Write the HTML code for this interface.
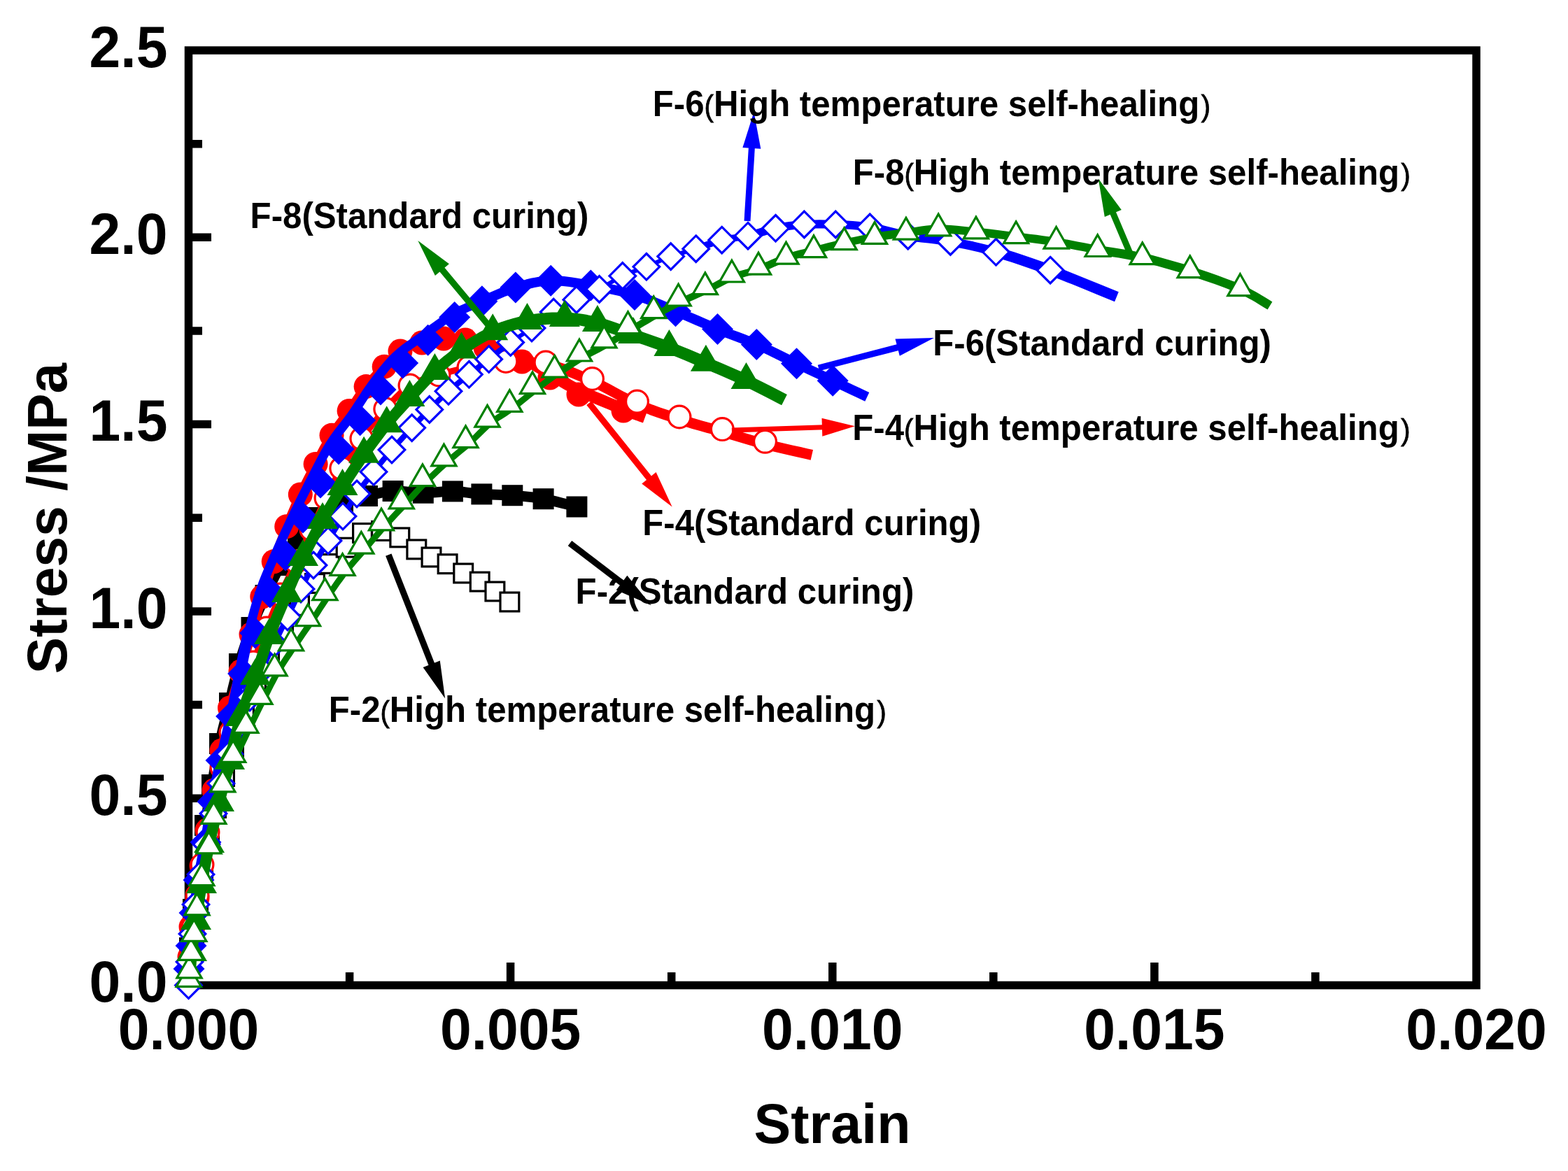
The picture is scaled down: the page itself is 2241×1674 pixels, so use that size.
<!DOCTYPE html>
<html><head><meta charset="utf-8"><title>Stress-strain curves</title>
<style>html,body{margin:0;padding:0;background:#fff;overflow:hidden}svg{display:block}</style>
</head><body>
<svg xmlns="http://www.w3.org/2000/svg" width="2241" height="1674" viewBox="0 0 2241 1674">
<rect width="100%" height="100%" fill="#fff"/>
<g stroke="#000" stroke-width="11.5" fill="none">
<rect x="269.5" y="72" width="1840.5" height="1336.5"/>
</g>
<path d="M499.6 1408.5V1390 M729.6 1408.5V1376 M959.7 1408.5V1390 M1189.8 1408.5V1376 M1419.8 1408.5V1390 M1649.9 1408.5V1376 M1879.9 1408.5V1390 M269.5 1274.8H289 M269.5 1141.2H302 M269.5 1007.5H289 M269.5 873.9H302 M269.5 740.2H289 M269.5 606.6H302 M269.5 473H289 M269.5 339.3H302 M269.5 205.7H289" stroke="#000" stroke-width="11.5" fill="none"/>
<path d="M269.5 1408.5 L269.6 1402.7 L269.8 1394.7 L269.9 1385.2 L270.2 1374.9 L270.5 1364.6 L271 1355 L271.6 1346 L272.3 1337 L273.1 1327.9 L274 1318.8 L275 1309.5 L276 1300 L277.1 1290.3 L278.4 1280.4 L279.8 1270.3 L281.1 1260.2 L282.6 1250.1 L284 1240 L285.4 1230 L286.9 1219.9 L288.4 1209.9 L289.9 1199.9 L291.4 1189.9 L293 1180 L294.6 1170.2 L296.2 1160.6 L297.9 1150.9 L299.6 1141.3 L301.3 1131.7 L303 1122 L304.7 1112.2 L306.5 1102.4 L308.2 1092.5 L310.1 1082.6 L312 1072.8 L314 1063 L316.2 1053.3 L318.4 1043.5 L320.8 1033.8 L323.2 1024.1 L325.6 1014.5 L328 1005 L330.3 995.5 L332.5 986 L334.8 976.6 L337.1 967.3 L339.5 958.1 L342 949 L344.7 940 L347.5 931.1 L350.4 922.4 L353.4 913.7 L356.4 905.3 L359.5 897 L362.7 889 L365.9 881.1 L369.2 873.4 L372.6 865.9 L376.1 858.4 L379.5 851 L383 843.6 L386.4 836.3 L389.9 829 L393.5 821.9 L397.2 814.8 L401 808 L404.9 801.3 L408.9 794.7 L413 788.2 L417.2 781.9 L421.6 775.8 L426 770 L430.5 764.4 L435.1 759.1 L439.9 754 L444.7 749.1 L449.8 744.4 L455 740 L460.5 735.7 L466.2 731.6 L472.1 727.7 L478.1 724.1 L484.1 720.8 L490 718 L495.8 715.7 L501.6 714 L507.4 712.6 L513.2 711.4 L519.1 710.2 L525 709 L530.9 707.6 L536.8 706.2 L542.8 704.8 L548.9 703.5 L555.1 702.6 L561.6 702 L568.4 701.9 L575.6 702.4 L582.9 703.1 L590.2 703.8 L597.6 704.4 L604.8 704.7 L611.9 704.5 L618.9 704.1 L626 703.5 L633 702.9 L639.9 702.5 L646.9 702.4 L653.8 702.7 L660.7 703.3 L667.5 704.1 L674.4 705 L681.4 705.8 L688.4 706.4 L695.6 706.8 L702.8 707 L710.2 707.2 L717.5 707.4 L724.9 707.7 L732.3 708.2 L739.6 708.8 L746.9 709.4 L754.2 710.1 L761.6 710.9 L769 712 L776.6 713.2 L784.9 714.8 L794 716.9 L803.3 719.2 L811.9 721.3 L819.2 723.2 L824.4 724.5" fill="none" stroke="#000000" stroke-width="15" stroke-linejoin="round" stroke-linecap="butt"/>
<g fill="#000000"><rect x="256" y="1340" width="30" height="30"/><rect x="261" y="1285" width="30" height="30"/><rect x="269" y="1225" width="30" height="30"/><rect x="278" y="1165" width="30" height="30"/><rect x="288" y="1107" width="30" height="30"/><rect x="299" y="1048" width="30" height="30"/><rect x="313" y="990" width="30" height="30"/><rect x="327" y="934" width="30" height="30"/><rect x="344.5" y="882" width="30" height="30"/><rect x="364.5" y="836" width="30" height="30"/><rect x="386" y="793" width="30" height="30"/><rect x="411" y="755" width="30" height="30"/><rect x="440" y="725" width="30" height="30"/><rect x="475" y="703" width="30" height="30"/><rect x="510" y="694" width="30" height="30"/><rect x="546.6" y="687" width="30" height="30"/><rect x="589.8" y="689.7" width="30" height="30"/><rect x="631.9" y="687.4" width="30" height="30"/><rect x="673.4" y="691.4" width="30" height="30"/><rect x="717.3" y="693.2" width="30" height="30"/><rect x="761.6" y="698.2" width="30" height="30"/><rect x="809.4" y="709.5" width="30" height="30"/></g>
<path d="M269.5 1408.5 L269.7 1404.9 L270.1 1400.1 L270.4 1394.2 L270.9 1387.9 L271.4 1381.3 L272 1375 L272.7 1368.8 L273.4 1362.3 L274.3 1355.7 L275.2 1348.9 L276.1 1342 L277 1335 L277.9 1327.8 L278.9 1320.4 L279.9 1312.8 L280.9 1305.2 L281.9 1297.6 L283 1290 L284.1 1282.5 L285.2 1275 L286.3 1267.5 L287.5 1260 L288.7 1252.5 L290 1245 L291.4 1237.5 L292.8 1230 L294.3 1222.5 L295.9 1215 L297.4 1207.5 L299 1200 L300.6 1192.5 L302.2 1185 L303.8 1177.5 L305.5 1170 L307.2 1162.5 L309 1155 L310.9 1147.5 L312.8 1139.9 L314.8 1132.3 L316.9 1124.8 L318.9 1117.3 L321 1110 L323.1 1102.8 L325.2 1095.8 L327.3 1088.9 L329.5 1082 L331.7 1075 L334 1068 L336.4 1060.9 L338.8 1053.6 L341.2 1046.4 L343.8 1039.1 L346.4 1032 L349 1025 L351.7 1018.2 L354.4 1011.4 L357.2 1004.8 L360.1 998.2 L363 991.6 L366 985 L369 978.4 L372.1 971.7 L375.3 965.1 L378.5 958.5 L381.8 951.8 L385 945 L388.2 938.1 L391.5 931 L394.8 923.8 L398.1 916.7 L401.5 909.7 L405 903 L408.7 896.5 L412.5 890.1 L416.4 883.9 L420.3 877.8 L424.2 871.8 L428 866 L431.7 860.3 L435.4 854.8 L439.1 849.4 L442.8 844.2 L446.4 839 L450 834 L453.5 829 L457 824.2 L460.4 819.5 L463.8 814.8 L467.4 810.3 L471 806 L474.8 801.8 L478.7 797.8 L482.6 793.9 L486.7 790.1 L490.6 786.4 L494.6 782.7 L498.5 778.9 L502.3 775 L506.1 771.1 L509.9 767.5 L513.9 764.4 L518 762 L522.3 760.3 L526.8 759.2 L531.3 758.6 L535.9 758.4 L540.5 758.6 L545 759 L549.5 759.8 L553.9 760.9 L558.3 762.5 L562.7 764.2 L567.1 766.2 L571.3 768.4 L575.5 770.9 L579.6 773.7 L583.6 776.8 L587.6 779.9 L591.5 782.8 L595.3 785.4 L599 787.6 L602.5 789.6 L606 791.4 L609.4 793.1 L612.9 794.8 L616.5 796.5 L620.2 798.2 L624.1 799.7 L628 801.2 L631.9 802.8 L635.8 804.4 L639.6 806.2 L643.4 808.2 L647.1 810.4 L650.9 812.7 L654.6 815 L658.4 817.3 L662.2 819.5 L666.1 821.6 L670 823.6 L674 825.5 L678 827.5 L681.9 829.5 L685.7 831.6 L689.4 833.8 L693.1 836.1 L696.7 838.4 L700.3 840.7 L703.8 843.1 L707.4 845.5 L711.2 848.1 L715.2 851 L719.3 853.9 L723 856.6 L726.1 858.9 L728.4 860.5" fill="none" stroke="#000000" stroke-width="4" stroke-linejoin="round" stroke-linecap="butt"/>
<g fill="#fff" stroke="#000000" stroke-width="3.2"><rect x="258.6" y="1361.6" width="26.8" height="26.8"/><rect x="263.6" y="1321.6" width="26.8" height="26.8"/><rect x="269.6" y="1276.6" width="26.8" height="26.8"/><rect x="276.6" y="1231.6" width="26.8" height="26.8"/><rect x="285.6" y="1186.6" width="26.8" height="26.8"/><rect x="295.6" y="1141.6" width="26.8" height="26.8"/><rect x="307.6" y="1096.6" width="26.8" height="26.8"/><rect x="320.6" y="1054.6" width="26.8" height="26.8"/><rect x="335.6" y="1011.6" width="26.8" height="26.8"/><rect x="352.6" y="971.6" width="26.8" height="26.8"/><rect x="371.6" y="931.6" width="26.8" height="26.8"/><rect x="391.6" y="889.6" width="26.8" height="26.8"/><rect x="414.6" y="852.6" width="26.8" height="26.8"/><rect x="436.6" y="820.6" width="26.8" height="26.8"/><rect x="457.6" y="792.6" width="26.8" height="26.8"/><rect x="481.2" y="769.3" width="26.8" height="26.8"/><rect x="504.6" y="748.6" width="26.8" height="26.8"/><rect x="531.6" y="745.6" width="26.8" height="26.8"/><rect x="557.9" y="755" width="26.8" height="26.8"/><rect x="581.9" y="772" width="26.8" height="26.8"/><rect x="603.1" y="783.1" width="26.8" height="26.8"/><rect x="626.2" y="792.8" width="26.8" height="26.8"/><rect x="648.8" y="806.1" width="26.8" height="26.8"/><rect x="672.3" y="818.2" width="26.8" height="26.8"/><rect x="694" y="832.1" width="26.8" height="26.8"/><rect x="715" y="847.1" width="26.8" height="26.8"/></g>
<path d="M269.5 1408.5 L269.7 1404.1 L269.9 1398.1 L270.1 1390.9 L270.4 1383.2 L270.7 1375.4 L271 1368 L271.2 1361 L271.4 1353.8 L271.5 1346.5 L271.8 1339.3 L272.3 1332.1 L273 1325 L274.1 1318.1 L275.6 1311.4 L277.2 1304.7 L279 1298 L280.6 1291.1 L282 1284 L283.2 1276.7 L284.1 1269.2 L285.1 1261.6 L286 1253.9 L286.9 1246 L288 1238 L289.2 1229.9 L290.4 1221.6 L291.8 1213.2 L293.1 1204.6 L294.5 1195.9 L296 1187 L297.5 1177.8 L299.1 1168.4 L300.8 1158.9 L302.5 1149.2 L304.3 1139.6 L306 1130 L307.8 1120.5 L309.6 1111.1 L311.4 1101.8 L313.3 1092.3 L315.1 1082.7 L317 1073 L318.8 1063 L320.6 1052.6 L322.5 1042.2 L324.4 1031.8 L326.3 1021.7 L328.5 1012 L330.9 1002.8 L333.4 994 L336 985.5 L338.7 977.1 L341.4 968.6 L344 960 L346.5 951.2 L349 942.4 L351.5 933.6 L354 924.8 L356.5 915.9 L359 907 L361.6 898 L364.2 888.9 L366.8 879.8 L369.5 870.8 L372.1 861.8 L374.8 853 L377.5 844.4 L380.1 836 L382.8 827.7 L385.6 819.4 L388.3 811.1 L391.2 802.8 L394.1 794.4 L397.2 785.9 L400.2 777.5 L403.4 769.1 L406.5 760.8 L409.7 752.7 L412.9 744.8 L416.1 737.1 L419.3 729.4 L422.6 721.9 L425.9 714.4 L429.3 707 L432.8 699.6 L436.4 692.2 L440 684.9 L443.7 677.7 L447.4 670.5 L451.1 663.4 L454.8 656.3 L458.6 649.3 L462.3 642.3 L466.2 635.4 L470 628.8 L474 622.3 L478.1 616.1 L482.2 610.2 L486.5 604.5 L490.7 598.8 L495 593.1 L499.1 587.4 L503.1 581.5 L507.1 575.6 L511 569.6 L515 563.7 L519 558 L523.1 552.6 L527.4 547.4 L531.8 542.4 L536.2 537.6 L540.7 533 L545 528.5 L549.2 524.2 L553.1 520 L556.7 516 L560.3 512.1 L563.9 508.4 L567.8 505 L572 502 L576.7 499.3 L581.7 497 L587 495 L592.4 493.2 L597.7 491.5 L603 490" fill="none" stroke="#ff0000" stroke-width="13" stroke-linejoin="round" stroke-linecap="round"/>
<path d="M603 490 L608.2 488.6 L613.3 487.3 L618.5 486.1 L623.7 485.2 L628.8 484.5 L634 484 L639.2 483.8 L644.4 483.8 L649.6 484.1 L654.8 484.6 L659.9 485.2 L665 486 L669.7 486.9 L674 488 L678.2 489.3 L682.7 490.8 L687.9 492.5 L694 494.5" fill="none" stroke="#ff0000" stroke-width="15" stroke-linejoin="round" stroke-linecap="round"/>
<path d="M694 494.5 L701.5 496.8 L710.1 499.5 L719.3 502.4 L728.7 505.5 L737.8 508.7 L746 512 L753.3 515.4 L760.2 519.1 L766.7 522.9 L773 526.7 L779.4 530.6 L786 534.5 L792.5 538.3 L798.7 542.1 L805 546 L811.6 549.9 L818.8 553.9 L827 558 L836.7 562.5 L847.9 567.3 L859.6 572.2 L871.3 577 L882 581.4 L891 585 L898.4 587.9 L904.9 590.4 L910.5 592.4 L915.1 594.1 L918.9 595.4 L921.9 596.5" fill="none" stroke="#ff0000" stroke-width="17" stroke-linejoin="round" stroke-linecap="butt"/>
<g fill="#ff0000"><circle cx="271" cy="1368" r="17.5"/><circle cx="273" cy="1325" r="17.5"/><circle cx="282" cy="1284" r="17.5"/><circle cx="288" cy="1238" r="17.5"/><circle cx="296" cy="1187" r="17.5"/><circle cx="306" cy="1130" r="17.5"/><circle cx="317" cy="1073" r="17.5"/><circle cx="328.5" cy="1012" r="17.5"/><circle cx="344" cy="960" r="17.5"/><circle cx="359" cy="907" r="17.5"/><circle cx="374.8" cy="853" r="17.5"/><circle cx="391.2" cy="802.8" r="17.5"/><circle cx="409.7" cy="752.7" r="17.5"/><circle cx="429.3" cy="707" r="17.5"/><circle cx="451.1" cy="663.4" r="17.5"/><circle cx="474" cy="622.3" r="17.5"/><circle cx="499.1" cy="587.4" r="17.5"/><circle cx="523.1" cy="552.6" r="17.5"/><circle cx="549.2" cy="524.2" r="17.5"/><circle cx="572" cy="502" r="17.5"/><circle cx="603" cy="490" r="17.5"/><circle cx="634" cy="484" r="17.5"/><circle cx="665" cy="486" r="17.5"/><circle cx="694" cy="497" r="17.5"/><circle cx="746" cy="517" r="17.5"/><circle cx="786" cy="540" r="17.5"/><circle cx="827" cy="564" r="17.5"/><circle cx="891" cy="587" r="17.5"/></g>
<path d="M269.5 1408.5 L269.8 1404.1 L270.1 1398.1 L270.5 1390.9 L271 1383.2 L271.5 1375.4 L272 1368 L272.6 1361 L273.1 1353.9 L273.8 1346.8 L274.5 1339.6 L275.2 1332.3 L276 1325 L276.9 1317.6 L277.8 1310.1 L278.8 1302.6 L279.9 1295 L280.9 1287.5 L282 1280 L283.1 1272.6 L284.2 1265.3 L285.4 1258.1 L286.6 1250.8 L287.8 1243.4 L289 1236 L290.3 1228.4 L291.6 1220.8 L292.9 1213.1 L294.2 1205.3 L295.6 1197.6 L297 1190 L298.4 1182.5 L299.9 1175 L301.3 1167.6 L302.8 1160.2 L304.4 1152.7 L306 1145 L307.7 1137.2 L309.4 1129.3 L311.2 1121.3 L313.1 1113.3 L315 1105.2 L317 1097 L319 1088.8 L321.1 1080.5 L323.2 1072.1 L325.4 1063.7 L327.7 1055.4 L330 1047 L332.4 1038.7 L334.8 1030.3 L337.2 1022 L339.8 1013.7 L342.4 1005.3 L345 997 L347.7 988.7 L350.4 980.3 L353.2 971.9 L356.1 963.6 L359 955.3 L362 947 L365 938.8 L368.1 930.6 L371.3 922.4 L374.5 914.2 L377.8 906.1 L381 898 L384.3 889.9 L387.5 881.9 L390.8 873.9 L394.1 865.9 L397.5 857.9 L401 850 L404.6 842.1 L408.2 834.2 L411.9 826.4 L415.6 818.6 L419.3 810.8 L423 803 L426.7 795.3 L430.4 787.6 L434.1 779.9 L437.7 772.2 L441.4 764.6 L445 757 L448.5 749.4 L452 741.8 L455.5 734.3 L459 726.8 L462.5 719.3 L466 712 L469.5 704.8 L472.9 697.6 L476.4 690.6 L480 683.6 L483.7 676.5 L487.8 669.5 L492.2 662.4 L496.8 655.4 L501.6 648.3 L506.6 641.2 L511.7 634.2 L516.9 627.1 L522.3 619.9 L527.8 612.7 L533.5 605.4 L539.2 598.3 L545 591.4 L550.8 584.8 L556.5 578.5 L562.2 572.2 L568 566.2 L573.8 560.6 L579.8 555.4 L586 551 L592.5 547.4 L599.2 544.5 L606 542.1 L613 540 L620 538.1 L627 536 L633.9 533.9 L640.8 531.9 L647.8 530.1 L654.9 528.3 L662.2 526.6 L670 525 L678.2 523.3 L686.8 521.5 L695.6 519.9 L704.7 518.4 L713.8 517.2 L723 516.5" fill="none" stroke="#ff0000" stroke-width="9" stroke-linejoin="round" stroke-linecap="round"/>
<path d="M723 516.5 L732.2 516.1 L741.4 515.9 L750.7 516 L760.1 516.6 L769.9 517.8 L780 519.8" fill="none" stroke="#ff0000" stroke-width="12" stroke-linejoin="round" stroke-linecap="round"/>
<path d="M780 519.8 L790.6 522.6 L801.6 526.3 L812.8 530.5 L824.2 535.2 L835.5 540.1 L846.5 545 L857.4 550.1 L868.1 555.7 L878.9 561.5 L889.5 567.3 L900.1 572.7 L910.5 577.6 L920.8 581.9 L930.9 585.9 L940.9 589.5 L950.9 592.9 L960.9 596.2 L971 599.5 L981.2 602.7 L991.4 605.7 L1001.6 608.6 L1011.8 611.4 L1022.1 614.2 L1032.3 617.1 L1042.4 620.1 L1052.5 623.1 L1062.6 626.1 L1072.7 629.1 L1083 632 L1093.5 634.8 L1105.1 637.7 L1117.8 640.7 L1130.7 643.7 L1142.8 646.4 L1153 648.7 L1160.3 650.4" fill="none" stroke="#ff0000" stroke-width="15" stroke-linejoin="round" stroke-linecap="butt"/>
<g fill="#fff" stroke="#ff0000" stroke-width="3.2"><circle cx="272" cy="1368" r="15.9"/><circle cx="276" cy="1325" r="15.9"/><circle cx="282" cy="1280" r="15.9"/><circle cx="289" cy="1236" r="15.9"/><circle cx="297" cy="1190" r="15.9"/><circle cx="306" cy="1145" r="15.9"/><circle cx="317" cy="1097" r="15.9"/><circle cx="330" cy="1047" r="15.9"/><circle cx="345" cy="997" r="15.9"/><circle cx="362" cy="947" r="15.9"/><circle cx="381" cy="898" r="15.9"/><circle cx="401" cy="850" r="15.9"/><circle cx="423" cy="803" r="15.9"/><circle cx="445" cy="757" r="15.9"/><circle cx="466" cy="712" r="15.9"/><circle cx="487.8" cy="669.5" r="15.9"/><circle cx="516.9" cy="627.1" r="15.9"/><circle cx="550.8" cy="584.8" r="15.9"/><circle cx="586" cy="551" r="15.9"/><circle cx="627" cy="536" r="15.9"/><circle cx="670" cy="525" r="15.9"/><circle cx="723" cy="516.5" r="15.9"/><circle cx="780" cy="518" r="15.9"/><circle cx="846.5" cy="541.5" r="15.9"/><circle cx="910.5" cy="574.1" r="15.9"/><circle cx="971" cy="596" r="15.9"/><circle cx="1032.3" cy="613.6" r="15.9"/><circle cx="1093.5" cy="631.3" r="15.9"/></g>
<path d="M269.5 1408.5 L269.5 1406.1 L269.5 1402.8 L269.6 1398.8 L269.6 1394.4 L269.8 1389.7 L270 1385 L270.3 1380.2 L270.7 1375.2 L271.2 1370 L271.8 1364.4 L272.4 1358.4 L273 1352 L273.7 1345 L274.5 1337.4 L275.3 1329.4 L276.2 1321.2 L277.1 1313 L278 1305 L278.9 1297.2 L279.8 1289.6 L280.7 1281.9 L281.7 1274.2 L282.8 1266.2 L284 1258 L285.4 1249.5 L287 1240.7 L288.8 1231.7 L290.5 1222.6 L292.3 1213.3 L294 1204 L295.6 1194.6 L297.3 1185 L298.9 1175.3 L300.5 1165.6 L302.2 1155.8 L304 1146 L305.9 1136.3 L307.8 1126.6 L309.7 1116.8 L311.7 1107 L313.8 1097.1 L316 1087 L318.3 1076.7 L320.8 1066.3 L323.3 1055.7 L325.8 1045.1 L328.3 1034.5 L330.6 1024 L332.8 1013.5 L334.9 1003.1 L337 992.6 L339 982.3 L341 971.9 L343.1 961.7 L345.2 951.6 L347.2 941.7 L349.2 931.8 L351.3 921.9 L353.5 912 L355.8 902.1" fill="none" stroke="#0000ff" stroke-width="16" stroke-linejoin="round" stroke-linecap="round"/>
<path d="M355.8 902.1 L358.4 892 L361 881.8 L363.8 871.6 L366.7 861.5 L369.8 851.6 L373 841.9 L376.3 832.6 L379.9 823.6 L383.6 814.8 L387.4 806 L391.2 797.3 L395.2 788.4 L399.2 779.3 L403.4 770.1 L407.6 761 L411.9 751.8 L416.1 742.8 L420.4 733.9 L424.6 725.3 L428.7 716.8 L432.9 708.4 L437.1 700.1 L441.3 691.8 L445.6 683.5 L449.9 675.2 L454.2 666.8 L458.5 658.5 L462.9 650.3 L467.5 642.2 L472.2 634.5 L477.1 627.1 L482.2 620.1 L487.5 613.3 L492.8 606.5 L498 599.6 L503.2 592.6 L508.1 585.4 L513 577.9 L517.9 570.5 L522.7 563 L527.7 555.7 L532.8 548.6 L538 541.7 L543.2 534.8 L548.5 528.1 L553.9 521.6 L559.6 515.3 L565.5 509.3 L571.7 503.8 L578.2 498.6 L584.9 493.7 L591.7 488.9 L598.6 484.2 L605.4 479.3 L612.3 474.2 L619.1 469 L626.1 463.9 L633 458.9 L640 454.1 L647 449.8 L653.9 446 L660.7 442.7 L667.5 439.6 L674.5 436.7 L681.6 433.8 L688.9 430.7" fill="none" stroke="#0000ff" stroke-width="13" stroke-linejoin="round" stroke-linecap="round"/>
<path d="M688.9 430.7 L696.5 427.3 L704.4 423.8 L712.4 420.3 L720.5 416.9 L728.7 413.7 L736.9 411 L745.1 408.6 L753.2 406.4 L761.5 404.4 L769.8 402.9 L778.4 401.8 L787.2 401.2 L796.3 401.3 L805.5 402 L815 403.1 L824.6 404.6 L834.4 406.3 L844.3 408 L854.5 409.8 L864.9 411.7 L875.6 413.8 L886.2 416.1 L896.7 418.7 L907 421.6 L917 424.9 L926.8 428.5 L936.4 432.4 L946 436.5 L955.7 440.7 L965.5 444.8 L975.5 449 L985.5 453.4 L995.7 457.8 L1005.8 462.2 L1015.7 466.5 L1025.5 470.6 L1035 474.4 L1044.4 478 L1053.6 481.4 L1062.8 484.9 L1072 488.5 L1081.3 492.4 L1090.8 496.7 L1100.5 501.2 L1110.2 505.9 L1119.8 510.6 L1129.3 515.2 L1138.5 519.7 L1147.5 524 L1156.2 528.1 L1164.9 532.2 L1173.4 536.2 L1181.8 540.2 L1190.2 544.2 L1199.1 548.4 L1208.6 552.9 L1218 557.3 L1226.7 561.4 L1234 564.8 L1239.3 567.3" fill="none" stroke="#0000ff" stroke-width="14" stroke-linejoin="round" stroke-linecap="butt"/>
<g fill="#0000ff"><path d="M270 1362.5L292.5 1385L270 1407.5L247.5 1385Z"/><path d="M273 1329.5L295.5 1352L273 1374.5L250.5 1352Z"/><path d="M278 1282.5L300.5 1305L278 1327.5L255.5 1305Z"/><path d="M284 1235.5L306.5 1258L284 1280.5L261.5 1258Z"/><path d="M294 1181.5L316.5 1204L294 1226.5L271.5 1204Z"/><path d="M304 1123.5L326.5 1146L304 1168.5L281.5 1146Z"/><path d="M316 1064.5L338.5 1087L316 1109.5L293.5 1087Z"/><path d="M330.6 1001.5L353.1 1024L330.6 1046.5L308.1 1024Z"/><path d="M347.6 940.5L370.1 963L347.6 985.5L325.1 963Z"/><path d="M364.7 882.5L387.2 905L364.7 927.5L342.2 905Z"/><path d="M386 824.5L408.5 847L386 869.5L363.5 847Z"/><path d="M408 771.5L430.5 794L408 816.5L385.5 794Z"/><path d="M433 717.5L455.5 740L433 762.5L410.5 740Z"/><path d="M458 667.5L480.5 690L458 712.5L435.5 690Z"/><path d="M484 619.5L506.5 642L484 664.5L461.5 642Z"/><path d="M514.6 578.2L537.1 600.7L514.6 623.2L492.1 600.7Z"/><path d="M544 534.5L566.5 557L544 579.5L521.5 557Z"/><path d="M575.6 496.5L598.1 519L575.6 541.5L553.1 519Z"/><path d="M611.6 463.8L634.1 486.3L611.6 508.8L589.1 486.3Z"/><path d="M649.7 431.1L672.2 453.6L649.7 476.1L627.2 453.6Z"/><path d="M688.9 408.2L711.4 430.7L688.9 453.2L666.4 430.7Z"/><path d="M736.9 388.5L759.4 411L736.9 433.5L714.4 411Z"/><path d="M787.2 378.7L809.7 401.2L787.2 423.7L764.7 401.2Z"/><path d="M844.3 385.5L866.8 408L844.3 430.5L821.8 408Z"/><path d="M907 399.1L929.5 421.6L907 444.1L884.5 421.6Z"/><path d="M965.5 422.3L988 444.8L965.5 467.3L943 444.8Z"/><path d="M1025.5 448.1L1048 470.6L1025.5 493.1L1003 470.6Z"/><path d="M1081.3 469.9L1103.8 492.4L1081.3 514.9L1058.8 492.4Z"/><path d="M1138.5 497.2L1161 519.7L1138.5 542.2L1116 519.7Z"/><path d="M1190.2 521.7L1212.7 544.2L1190.2 566.7L1167.7 544.2Z"/></g>
<path d="M269.5 1408.5 L269.6 1404.9 L269.8 1400.1 L270 1394.2 L270.3 1387.9 L270.6 1381.3 L271 1375 L271.5 1368.7 L272.1 1362.2 L272.8 1355.5 L273.5 1348.7 L274.2 1341.9 L275 1335 L275.8 1328.1 L276.5 1321.2 L277.3 1314.2 L278.1 1307.1 L279 1300.1 L280 1293 L281 1285.9 L282.1 1278.7 L283.3 1271.6 L284.5 1264.4 L285.8 1257.2 L287 1250 L288.3 1242.8 L289.5 1235.7 L290.8 1228.6 L292.1 1221.4 L293.5 1214.2 L295 1207 L296.5 1199.7 L298.1 1192.4 L299.8 1185 L301.5 1177.6 L303.3 1170.3 L305 1163 L306.8 1155.8 L308.6 1148.6 L310.4 1141.4 L312.2 1134.2 L314.1 1127.1 L316 1120 L317.9 1112.9 L319.9 1105.9 L321.8 1098.9 L323.8 1091.9 L325.9 1084.9 L328 1078 L330.2 1071.1 L332.5 1064.2 L334.8 1057.4 L337.2 1050.6 L339.6 1043.8 L342 1037 L344.4 1030.3 L346.9 1023.6 L349.3 1016.9 L351.8 1010.2 L354.4 1003.6 L357 997 L359.7 990.4 L362.5 983.9 L365.3 977.4 L368.2 970.9 L371.1 964.4 L374 958 L376.9 951.6 L379.9 945.3 L382.9 938.9 L385.9 932.6 L388.9 926.3 L392 920 L395.1 913.7 L398.3 907.4 L401.4 901.1 L404.6 894.8 L407.8 888.4 L411 882 L414.2 875.4 L417.4 868.6 L420.6 861.8 L423.7 855 L426.9 848.3 L430 842 L433 836 L436 830.3 L438.9 824.7 L441.8 819.2 L444.8 813.7 L448 808 L451.3 802.2 L454.8 796.4 L458.3 790.6 L461.9 784.7 L465.5 778.8 L469 773 L472.5 767.1 L476 761.2 L479.6 755.3 L483.1 749.4 L486.6 743.7 L490 738 L493.3 732.5 L496.6 727.1 L499.8 721.8 L503.1 716.5 L506.4 711.3 L510 706 L513.7 700.7 L517.6 695.5 L521.6 690.2 L525.7 685 L529.8 679.7 L534 674.5 L538.2 669.2 L542.4 664 L546.7 658.7 L551.1 653.5 L555.5 648.2 L560 643 L564.7 637.7 L569.5 632.3 L574.4 627 L579.3 621.7 L584.1 616.5 L588.7 611.6 L593.1 606.9 L597.3 602.5 L601.3 598.2 L605.4 593.9 L609.5 589.7 L613.8 585.4 L618.2 581 L622.6 576.6 L627.1 572.2 L631.7 567.8 L636.3 563.5 L641 559.3 L645.8 555.2 L650.7 551.1 L655.6 547 L660.6 543.1 L665.5 539.1 L670.4 535.3 L675.1 531.6 L679.8 528 L684.5 524.4 L689.1 520.8 L693.8 517.2 L698.7 513.5 L703.7 509.6 L708.9 505.5 L714.1 501.4 L719.3 497.3 L724.5 493.3 L729.7 489.5" fill="none" stroke="#0000ff" stroke-width="8" stroke-linejoin="round" stroke-linecap="round"/>
<path d="M729.7 489.5 L734.8 485.9 L739.8 482.5 L744.8 479.2 L749.9 475.9 L754.9 472.5 L760 469 L765.1 465.3 L770.3 461.4 L775.5 457.4 L780.7 453.4 L785.9 449.6 L791.2 446.1 L796.6 442.8 L802 439.7 L807.5 436.8 L812.9 433.9 L818.4 431.1 L823.9 428.4 L829.3 425.8 L834.8 423.3 L840.2 421 L845.7 418.6 L851.1 416.1 L856.6 413.4 L862.1 410.4 L867.6 407.1 L873.1 403.8 L878.6 400.4 L884.2 397.3 L889.8 394.4 L895.4 391.9 L901.1 389.7 L906.7 387.6 L912.4 385.6 L918.2 383.5 L923.9 381.3 L929.6 378.9 L935.4 376.4 L941.2 373.8 L947 371.3 L952.8 368.8 L958.7 366.6 L964.6 364.6 L970.6 362.7 L976.6 361 L982.6 359.3 L988.6 357.6 L994.7 355.7" fill="none" stroke="#0000ff" stroke-width="6" stroke-linejoin="round" stroke-linecap="round"/>
<path d="M994.7 355.7 L1000.8 353.6 L1006.9 351.4 L1013.1 349.1 L1019.3 346.9 L1025.5 344.9 L1031.7 343.2 L1037.9 341.9 L1044 340.9 L1050.2 340.1 L1056.4 339.3 L1062.7 338.4 L1069 337.2" fill="none" stroke="#0000ff" stroke-width="10" stroke-linejoin="round" stroke-linecap="round"/>
<path d="M1069 337.2 L1075.4 335.6 L1082 333.7 L1088.5 331.7 L1095.1 329.7 L1101.8 327.9 L1108.5 326.3 L1115.2 325 L1121.9 323.9 L1128.6 322.9 L1135.4 322.1 L1142.3 321.4 L1149.4 320.9 L1156.6 320.5 L1163.9 320.4 L1171.3 320.3 L1178.9 320.4 L1186.5 320.6 L1194.3 320.9 L1202.2 321.2 L1210.1 321.6 L1218.2 322.1 L1226.4 322.8 L1234.8 323.7 L1243.3 324.9" fill="none" stroke="#0000ff" stroke-width="12" stroke-linejoin="round" stroke-linecap="round"/>
<path d="M1243.3 324.9 L1252 326.5 L1260.8 328.5 L1269.8 330.8 L1278.9 333.1 L1288.2 335.3 L1297.7 337.2 L1307.4 338.7 L1317.3 340 L1327.4 341.1 L1337.6 342.3 L1348 343.7 L1358.4 345.4 L1368.9 347.4 L1379.3 349.5 L1389.9 351.7 L1400.7 354.3 L1411.9 357.1 L1423.5 360.3" fill="none" stroke="#0000ff" stroke-width="13" stroke-linejoin="round" stroke-linecap="round"/>
<path d="M1423.5 360.3 L1435.5 363.8 L1447.8 367.7 L1460.4 371.8 L1473.5 376.3 L1487 381.1 L1501.1 386.2 L1517 392.3 L1534.9 399.4 L1553.3 406.9 L1570.7 414 L1585.4 420 L1595.9 424.3" fill="none" stroke="#0000ff" stroke-width="15" stroke-linejoin="round" stroke-linecap="butt"/>
<g fill="#fff" stroke="#0000ff" stroke-width="3.2"><path d="M269.5 1389.7L288.3 1408.5L269.5 1427.3L250.7 1408.5Z"/><path d="M271 1356.2L289.8 1375L271 1393.8L252.2 1375Z"/><path d="M275 1316.2L293.8 1335L275 1353.8L256.2 1335Z"/><path d="M280 1274.2L298.8 1293L280 1311.8L261.2 1293Z"/><path d="M287 1231.2L305.8 1250L287 1268.8L268.2 1250Z"/><path d="M295 1188.2L313.8 1207L295 1225.8L276.2 1207Z"/><path d="M305 1144.2L323.8 1163L305 1181.8L286.2 1163Z"/><path d="M316 1101.2L334.8 1120L316 1138.8L297.2 1120Z"/><path d="M328 1059.2L346.8 1078L328 1096.8L309.2 1078Z"/><path d="M342 1018.2L360.8 1037L342 1055.8L323.2 1037Z"/><path d="M357 978.2L375.8 997L357 1015.8L338.2 997Z"/><path d="M374 939.2L392.8 958L374 976.8L355.2 958Z"/><path d="M392 901.2L410.8 920L392 938.8L373.2 920Z"/><path d="M411 863.2L429.8 882L411 900.8L392.2 882Z"/><path d="M430 823.2L448.8 842L430 860.8L411.2 842Z"/><path d="M448 789.2L466.8 808L448 826.8L429.2 808Z"/><path d="M469 754.2L487.8 773L469 791.8L450.2 773Z"/><path d="M490 719.2L508.8 738L490 756.8L471.2 738Z"/><path d="M510 687.2L528.8 706L510 724.8L491.2 706Z"/><path d="M534 655.7L552.8 674.5L534 693.3L515.2 674.5Z"/><path d="M560 624.2L578.8 643L560 661.8L541.2 643Z"/><path d="M588.7 592.8L607.5 611.6L588.7 630.4L569.9 611.6Z"/><path d="M613.8 566.6L632.6 585.4L613.8 604.2L595 585.4Z"/><path d="M641 540.5L659.8 559.3L641 578.1L622.2 559.3Z"/><path d="M670.4 516.5L689.2 535.3L670.4 554.1L651.6 535.3Z"/><path d="M698.7 494.7L717.5 513.5L698.7 532.3L679.9 513.5Z"/><path d="M729.7 470.7L748.5 489.5L729.7 508.3L710.9 489.5Z"/><path d="M760 450.2L778.8 469L760 487.8L741.2 469Z"/><path d="M791.2 427.3L810 446.1L791.2 464.9L772.4 446.1Z"/><path d="M823.9 409.6L842.7 428.4L823.9 447.2L805.1 428.4Z"/><path d="M856.6 394.6L875.4 413.4L856.6 432.2L837.8 413.4Z"/><path d="M889.8 375.6L908.6 394.4L889.8 413.2L871 394.4Z"/><path d="M923.9 362.5L942.7 381.3L923.9 400.1L905.1 381.3Z"/><path d="M958.7 347.8L977.5 366.6L958.7 385.4L939.9 366.6Z"/><path d="M994.7 336.9L1013.5 355.7L994.7 374.5L975.9 355.7Z"/><path d="M1031.7 324.4L1050.5 343.2L1031.7 362L1012.9 343.2Z"/><path d="M1069 318.4L1087.8 337.2L1069 356L1050.2 337.2Z"/><path d="M1108.5 307.5L1127.3 326.3L1108.5 345.1L1089.7 326.3Z"/><path d="M1149.4 302.1L1168.2 320.9L1149.4 339.7L1130.6 320.9Z"/><path d="M1194.3 302.1L1213.1 320.9L1194.3 339.7L1175.5 320.9Z"/><path d="M1243.3 306.1L1262.1 324.9L1243.3 343.7L1224.5 324.9Z"/><path d="M1297.7 318.4L1316.5 337.2L1297.7 356L1278.9 337.2Z"/><path d="M1358.4 326.6L1377.2 345.4L1358.4 364.2L1339.6 345.4Z"/><path d="M1423.5 341.5L1442.3 360.3L1423.5 379.1L1404.7 360.3Z"/><path d="M1501.1 367.4L1519.9 386.2L1501.1 405L1482.3 386.2Z"/></g>
<path d="M271 1402 L271.3 1397.7 L271.7 1391.8 L272.1 1384.8 L272.7 1377.2 L273.3 1369.4 L274 1362 L274.8 1354.9 L275.7 1347.6 L276.7 1340.2 L277.7 1332.7 L278.8 1325 L280 1317 L281.2 1308.8 L282.4 1300.4 L283.7 1291.8 L285 1283 L286.5 1274.1 L288 1265 L289.6 1255.7 L291.3 1246.1 L293.1 1236.4 L295 1226.6 L297 1216.8 L299 1207 L301.1 1197.2 L303.4 1187.4 L305.8 1177.6 L308.1 1167.8 L310.6 1157.9 L313 1148 L315.4 1138.1 L317.9 1128.1 L320.4 1118.2 L322.9 1108.2 L325.4 1098.1 L328 1088 L330.6 1077.7 L333.1 1067.4 L335.6 1056.9 L338.3 1046.5 L341 1036.2 L344 1026 L347.2 1016 L350.7 1006.1 L354.2 996.2 L357.9 986.5 L361.5 976.7 L365 967 L368.3 957.3 L371.6 947.7 L374.8 938.1 L378 928.4 L381.4 918.8 L385 909 L388.9 899 L393 888.9 L397.3 878.6 L401.6 868.5 L405.9 858.6 L410 849 L413.9 839.9 L417.6 831.1 L421.3 822.6 L425 814.1 L428.9 805.6 L433 797 L437.4 788.2 L441.9 779.2 L446.7 770.2 L451.4 761.3 L456.2 752.6 L461 744 L465.7 735.7 L470.4 727.6 L475.1 719.6 L479.8 711.7 L484.6 703.8 L489.5 696 L494.5 688.2 L499.5 680.3 L504.5 672.6 L509.7 664.9 L514.9 657.2 L520.1 649.7 L525.4 642.2 L530.8 634.8 L536.3 627.4 L541.8 620.1 L547.2 613 L552.7 606.2 L558.1 599.7 L563.5 593.4 L568.8 587.3 L574.3 581.3 L579.8 575.3 L585.4 569.1 L591.2 562.7 L597.1 556.2 L603.1 549.6 L609.1 543.2 L615.2 536.9 L621.4 531 L627.6 525.4 L633.7 520.1 L639.9 515 L646.2 510.1 L652.7 505.2 L659.5 500.5 L666.5 495.8 L673.7 491 L681.2 486.5 L688.7 482.1 L696.4 478 L704.2 474.3" fill="none" stroke="#008000" stroke-width="16" stroke-linejoin="round" stroke-linecap="round"/>
<path d="M704.2 474.3 L712.1 471 L720.1 468 L728.3 465.3 L736.6 462.9 L745 460.8 L753.5 459 L762.2 457.6 L771.2 456.4 L780.3 455.6 L789.3 455.1 L798.2 454.9 L806.8 455 L815 455.4 L822.8 456.1 L830.5 457.2 L838.1 458.5 L845.9 460.1 L853.9 462 L862.2 464.2 L870.6 466.9 L879.2 469.8 L887.8 472.9 L896.4 476 L905 479 L913.5 481.9 L922.1 484.8 L930.6 487.7 L939.2 490.7 L947.8 493.8 L956.4 497 L965 500.4 L973.6 503.8 L982.3 507.4 L991 511.1 L999.8 514.8 L1008.9 518.7 L1018.2 522.7 L1027.8 526.8 L1037.6 531 L1047.3 535.3 L1057 539.6 L1066.5 544 L1076.4 548.8 L1086.9 554.1 L1097.3 559.4 L1107 564.4 L1115.1 568.6 L1121 571.6" fill="none" stroke="#008000" stroke-width="17" stroke-linejoin="round" stroke-linecap="butt"/>
<g fill="#008000"><path d="M274 1336L296 1374L252 1374Z"/><path d="M280 1291L302 1329L258 1329Z"/><path d="M288 1239L310 1277L266 1277Z"/><path d="M299 1181L321 1219L277 1219Z"/><path d="M313 1122L335 1160L291 1160Z"/><path d="M328 1062L350 1100L306 1100Z"/><path d="M344 1000L366 1038L322 1038Z"/><path d="M365 941L387 979L343 979Z"/><path d="M385 883L407 921L363 921Z"/><path d="M410 823L432 861L388 861Z"/><path d="M433 771L455 809L411 809Z"/><path d="M461 718L483 756L439 756Z"/><path d="M489.5 670L511.5 708L467.5 708Z"/><path d="M520.1 623.7L542.1 661.7L498.1 661.7Z"/><path d="M552.7 580.2L574.7 618.2L530.7 618.2Z"/><path d="M585.4 543.1L607.4 581.1L563.4 581.1Z"/><path d="M621.4 505L643.4 543L599.4 543Z"/><path d="M659.5 474.5L681.5 512.5L637.5 512.5Z"/><path d="M704.2 448.3L726.2 486.3L682.2 486.3Z"/><path d="M753.5 433L775.5 471L731.5 471Z"/><path d="M806.8 429L828.8 467L784.8 467Z"/><path d="M853.9 436L875.9 474L831.9 474Z"/><path d="M905 453L927 491L883 491Z"/><path d="M956.4 471L978.4 509L934.4 509Z"/><path d="M1008.9 492.7L1030.9 530.7L986.9 530.7Z"/><path d="M1066.5 518L1088.5 556L1044.5 556Z"/></g>
<path d="M269.7 1401 L269.8 1399.8 L269.8 1398.2 L269.9 1396.3 L270.1 1394.1 L270.3 1391.5 L270.5 1388.5 L270.8 1385 L271.1 1381 L271.5 1376.7 L272 1372.1 L272.5 1367.5 L273 1363 L273.6 1358.7 L274.3 1354.5 L275 1350.2 L275.8 1345.8 L276.6 1341.1 L277.3 1336 L278 1330.4 L278.6 1324.5 L279.2 1318.3 L279.9 1311.8 L280.7 1305.2 L281.5 1298.6 L282.4 1291.9 L283.4 1285 L284.5 1278 L285.7 1270.8 L286.9 1263.6 L288.3 1256.3 L289.8 1248.8 L291.5 1241.2 L293.3 1233.4 L295.1 1225.6 L296.9 1218 L298.5 1210.5 L299.9 1203.3 L301.2 1196.3 L302.4 1189.4 L303.6 1182.5 L305.1 1175.5 L306.8 1168.3 L308.8 1161 L311 1153.4 L313.5 1145.8 L316 1138.2 L318.6 1130.6 L321.2 1123.3 L323.7 1116.2 L326.3 1109.2 L329 1102.2 L331.7 1095.4 L334.5 1088.5 L337.4 1081.6 L340.4 1074.8 L343.6 1067.9 L346.9 1061 L350.2 1054.2 L353.5 1047.3 L356.9 1040.5 L360.1 1033.7 L363.4 1026.9 L366.7 1020 L370 1013.2 L373.4 1006.5 L376.8 999.7 L380.2 992.9 L383.6 986.1 L387 979.3 L390.5 972.6 L394 966 L397.7 959.5 L401.4 953.3 L405.3 947.2 L409.1 941.3 L413.1 935.4 L417 929.6 L421 923.7 L424.9 917.9 L428.9 912.1 L432.9 906.3 L436.9 900.5 L441 894.6 L445 888.6 L449 882.6 L453.1 876.4 L457.1 870.1 L461.2 863.9 L465.3 857.7 L469.4 851.6 L473.4 845.6 L477.5 839.7 L481.6 833.8 L485.8 828 L490 822.3 L494.2 816.7 L498.5 811.3 L502.9 806.2 L507.3 801.1 L511.8 796.1 L516.3 791 L520.8 785.7 L525.5 780.3 L530.2 774.7 L535 769.1 L539.8 763.5 L544.7 757.9 L549.5 752.5 L554.2 747.2 L559 742.1 L563.7 737 L568.5 731.9 L573.3 726.8 L578.2 721.6 L583.1 716.3 L588.1 710.9 L593.1 705.4 L598.1 700 L603.1 694.7 L608.2 689.5 L613.2 684.5 L618.2 679.7 L623.2 674.9 L628.2 670.2 L633.3 665.6 L638.4 661 L643.5 656.5 L648.7 652.2 L653.9 647.9 L659.1 643.6 L664.3 639.3 L669.5 634.8 L674.6 630 L679.8 624.9 L684.9 619.8 L690 614.8 L695.1 609.9 L700.3 605.4 L705.5 601.4 L710.7 597.8 L716 594.4 L721.2 591.1 L726.5 587.6 L731.9 583.8 L737.3 579.7 L742.8 575.4 L748.3 571 L753.8 566.5 L759.2 562.2 L764.6 558 L769.9 553.9 L775.1 550 L780.2 546.2 L785.3 542.4 L790.6 538.6 L796 534.7" fill="none" stroke="#008000" stroke-width="9" stroke-linejoin="round" stroke-linecap="round"/>
<path d="M796 534.7 L801.7 530.8 L807.4 526.9 L813.3 523 L819.2 519.1 L825.2 515.3 L831.1 511.8 L837 508.4 L842.9 505.2 L848.8 502.1 L854.7 499 L860.5 495.9 L866.4 492.7 L872.1 489.4 L877.8 486 L883.4 482.7 L889 479.2 L894.7 475.8 L900.6 472.3 L906.5 468.7 L912.6 465 L918.8 461.3 L925 457.6 L931.1 454 L937.1 450.6 L942.9 447.3 L948.6 444.1 L954.3 441.1 L960 438.1 L965.8 435.1 L971.7 432.1 L977.8 429.2 L984.1 426.4 L990.4 423.6 L996.8 420.7 L1003.1 417.9 L1009.4 415 L1015.7 411.9 L1021.9 408.6 L1028.2 405.3 L1034.4 402.1 L1040.7 399.1 L1047 396.4 L1053.2 394.1 L1059.4 392.1 L1065.7 390.3 L1072 388.6 L1078.3 386.7 L1084.6 384.6" fill="none" stroke="#008000" stroke-width="10" stroke-linejoin="round" stroke-linecap="round"/>
<path d="M1084.6 384.6 L1091.1 382.1 L1097.6 379.4 L1104.1 376.5 L1110.7 373.7 L1117.2 371 L1123.8 368.7 L1130.3 366.6 L1136.7 364.8 L1143.1 363.1 L1149.6 361.5 L1156.2 359.9 L1163 358.2 L1170 356.4 L1177.2 354.5 L1184.5 352.6 L1191.9 350.8 L1199.3 349 L1206.6 347.3 L1213.8 345.7 L1221 344.3 L1228.2 342.9 L1235.4 341.5 L1242.7 340.2 L1250 339" fill="none" stroke="#008000" stroke-width="11" stroke-linejoin="round" stroke-linecap="round"/>
<path d="M1250 339 L1257.4 337.8 L1264.8 336.7 L1272.3 335.7 L1279.8 334.7 L1287.3 333.8 L1294.9 332.8 L1302.5 331.7 L1310 330.6 L1317.5 329.5 L1325.2 328.5 L1333 327.7 L1341.2 327.4 L1349.7 327.5 L1358.4 328 L1367.4 328.7 L1376.5 329.6 L1385.7 330.6 L1394.9 331.5 L1404.2 332.5 L1413.7 333.5 L1423.3 334.7 L1432.9 335.9 L1442.5 337.1 L1452.1 338.3 L1461.6 339.5 L1471.2 340.6 L1480.7 341.8 L1490.3 343.1 L1499.9 344.4 L1509.6 345.9 L1519.3 347.6 L1529 349.4 L1538.7 351.3 L1548.6 353.2 L1558.5 355.2 L1568.7 357.1" fill="none" stroke="#008000" stroke-width="12" stroke-linejoin="round" stroke-linecap="round"/>
<path d="M1568.7 357.1 L1579 358.9 L1589.5 360.5 L1600.1 362.2 L1610.9 364 L1621.7 366 L1632.7 368.3 L1643.8 370.9 L1654.9 373.8 L1666.2 376.9 L1677.6 380.2 L1689.1 383.6 L1700.7 387.3 L1712.8 391.2 L1725.4 395.5 L1738.1 399.9 L1750.5 404.5 L1762.1 408.9 L1772.4 413.2 L1781.7 417.6 L1790.3 422.2 L1798.2 426.7 L1805 430.9 L1810.7 434.4 L1815 437" fill="none" stroke="#008000" stroke-width="13" stroke-linejoin="round" stroke-linecap="butt"/>
<g fill="#fff" stroke="#008000" stroke-width="3.2"><path d="M269.7 1379.7L287.3 1410.3L252.1 1410.3Z"/><path d="M270.5 1367.2L288.1 1397.8L252.9 1397.8Z"/><path d="M273 1341.7L290.6 1372.3L255.4 1372.3Z"/><path d="M277.3 1314.7L294.9 1345.3L259.7 1345.3Z"/><path d="M281.5 1277.2L299.1 1307.9L263.9 1307.9Z"/><path d="M288.3 1235L305.9 1265.6L270.7 1265.6Z"/><path d="M298.5 1189.2L316.1 1219.8L280.9 1219.8Z"/><path d="M305.3 1146.7L322.9 1177.3L287.7 1177.3Z"/><path d="M318.3 1101.1L335.9 1131.8L300.7 1131.8Z"/><path d="M333.2 1058.7L350.8 1089.3L315.6 1089.3Z"/><path d="M351.4 1016.6L369 1047.3L333.8 1047.3Z"/><path d="M371.4 975.6L389 1006.4L353.8 1006.4Z"/><path d="M392.5 935.1L410.1 965.9L374.9 965.9Z"/><path d="M416 899L433.6 929.8L398.4 929.8Z"/><path d="M440 863.9L457.6 894.6L422.4 894.6Z"/><path d="M464.4 826.9L482 857.6L446.8 857.6Z"/><path d="M489.5 791.6L507.1 822.4L471.9 822.4Z"/><path d="M516.3 760.4L533.9 791.1L498.7 791.1Z"/><path d="M545 727.1L562.6 757.9L527.4 757.9Z"/><path d="M573.8 696.1L591.4 726.9L556.2 726.9Z"/><path d="M603.9 663.9L621.5 694.6L586.3 694.6Z"/><path d="M634.4 635.1L652 665.9L616.8 665.9Z"/><path d="M665.5 608.9L683.1 639.6L647.9 639.6Z"/><path d="M696.5 579.4L714.1 610.1L678.9 610.1Z"/><path d="M728.3 557.6L745.9 588.4L710.7 588.4Z"/><path d="M761 531.9L778.6 562.6L743.4 562.6Z"/><path d="M792.6 508.4L810.2 539.1L775 539.1Z"/><path d="M828 485.2L845.6 516L810.4 516Z"/><path d="M863.4 466.1L881 496.9L845.8 496.9Z"/><path d="M897.5 445.8L915.1 476.5L879.9 476.5Z"/><path d="M934.2 423.9L951.8 454.7L916.6 454.7Z"/><path d="M969.6 406.2L987.2 437L952 437Z"/><path d="M1007.8 389.9L1025.4 420.7L990.2 420.7Z"/><path d="M1045.9 372.2L1063.5 403L1028.3 403Z"/><path d="M1084 361.3L1101.6 392.1L1066.4 392.1Z"/><path d="M1123.5 346.3L1141.1 377.1L1105.9 377.1Z"/><path d="M1163 336.8L1180.6 367.6L1145.4 367.6Z"/><path d="M1206.6 325.9L1224.2 356.7L1189 356.7Z"/><path d="M1250 317.6L1267.6 348.4L1232.4 348.4Z"/><path d="M1294.9 311.4L1312.5 342.2L1277.3 342.2Z"/><path d="M1341.2 306L1358.8 336.8L1323.6 336.8Z"/><path d="M1394.9 310.1L1412.5 340.9L1377.3 340.9Z"/><path d="M1452.1 316.9L1469.7 347.7L1434.5 347.7Z"/><path d="M1509.6 324.5L1527.2 355.2L1492 355.2Z"/><path d="M1568.7 335.8L1586.3 366.5L1551.1 366.5Z"/><path d="M1632.7 346.9L1650.3 377.7L1615.1 377.7Z"/><path d="M1700.7 365.9L1718.3 396.7L1683.1 396.7Z"/><path d="M1772.4 391.8L1790 422.6L1754.8 422.6Z"/></g>
<line x1="1068" y1="316" x2="1075.6" y2="191.1" stroke="#0000ff" stroke-width="9"/><path d="M1077.5 160L1087.3 212.7L1061.4 211.1Z" fill="#0000ff"/>
<line x1="1615" y1="362" x2="1582.4" y2="285.1" stroke="#008000" stroke-width="9"/><path d="M1569.7 255.3L1602.8 299.9L1578.8 310.1Z" fill="#008000"/>
<line x1="698.7" y1="465.6" x2="618.1" y2="369" stroke="#008000" stroke-width="9"/><path d="M597.3 344.1L641.9 377.2L621.9 393.9Z" fill="#008000"/>
<line x1="1169.9" y1="526" x2="1303.5" y2="491.3" stroke="#0000ff" stroke-width="9"/><path d="M1334.9 483.1L1285.8 508.8L1279.5 484.6Z" fill="#0000ff"/>
<line x1="1045.9" y1="615" x2="1193.7" y2="610.2" stroke="#ff0000" stroke-width="7"/><path d="M1221.9 609.3L1175.3 623.8L1174.5 597.8Z" fill="#ff0000"/>
<line x1="841.8" y1="576.3" x2="940.7" y2="699.8" stroke="#ff0000" stroke-width="9"/><path d="M960.6 724.6L917.3 691.4L937.6 675.1Z" fill="#ff0000"/>
<line x1="814.5" y1="776.7" x2="905.4" y2="846" stroke="#000000" stroke-width="9"/><path d="M930.7 865.3L880.7 843.5L896.4 822.8Z" fill="#000000"/>
<line x1="555.3" y1="793.2" x2="624.5" y2="969" stroke="#000000" stroke-width="9"/><path d="M636.1 998.6L604.6 954L628.8 944.5Z" fill="#000000"/>
<text transform="translate(932.8 166) scale(1 1.05)" font-size="49.2" font-family="Liberation Sans, Arial, sans-serif" font-weight="bold">F-6<tspan font-weight="normal" font-size="40" stroke="#000" stroke-width="0.8">(</tspan>High temperature self-healing<tspan dx="2.5" font-weight="normal" font-size="40" stroke="#000" stroke-width="0.8">)</tspan></text>
<text transform="translate(1218.7 264) scale(1 1.05)" font-size="49.2" font-family="Liberation Sans, Arial, sans-serif" font-weight="bold">F-8<tspan font-weight="normal" font-size="40" stroke="#000" stroke-width="0.8">(</tspan>High temperature self-healing<tspan dx="2.5" font-weight="normal" font-size="40" stroke="#000" stroke-width="0.8">)</tspan></text>
<text transform="translate(357.6 326.3) scale(1 1.05)" font-size="49.2" font-family="Liberation Sans, Arial, sans-serif" font-weight="bold">F-8(Standard curing)</text>
<text transform="translate(1333.2 508.2) scale(1 1.05)" font-size="49.2" font-family="Liberation Sans, Arial, sans-serif" font-weight="bold">F-6(Standard curing)</text>
<text transform="translate(1218.3 629.4) scale(1 1.05)" font-size="49.2" font-family="Liberation Sans, Arial, sans-serif" font-weight="bold">F-4<tspan font-weight="normal" font-size="40" stroke="#000" stroke-width="0.8">(</tspan>High temperature self-healing<tspan dx="2.5" font-weight="normal" font-size="40" stroke="#000" stroke-width="0.8">)</tspan></text>
<text transform="translate(918.3 765.1) scale(1 1.05)" font-size="49.2" font-family="Liberation Sans, Arial, sans-serif" font-weight="bold">F-4(Standard curing)</text>
<text transform="translate(822.6 862.9) scale(1 1.05)" font-size="49.2" font-family="Liberation Sans, Arial, sans-serif" font-weight="bold">F-2(Standard curing)</text>
<text transform="translate(469.7 1031.9) scale(1 1.05)" font-size="49.2" font-family="Liberation Sans, Arial, sans-serif" font-weight="bold">F-2<tspan font-weight="normal" font-size="40" stroke="#000" stroke-width="0.8">(</tspan>High temperature self-healing<tspan dx="2.5" font-weight="normal" font-size="40" stroke="#000" stroke-width="0.8">)</tspan></text>
<text transform="translate(239.5 1432.3) scale(1 1.025)" font-size="80.5" text-anchor="end" font-family="Liberation Sans, Arial, sans-serif" font-weight="bold">0.0</text>
<text transform="translate(239.5 1165) scale(1 1.025)" font-size="80.5" text-anchor="end" font-family="Liberation Sans, Arial, sans-serif" font-weight="bold">0.5</text>
<text transform="translate(239.5 897.7) scale(1 1.025)" font-size="80.5" text-anchor="end" font-family="Liberation Sans, Arial, sans-serif" font-weight="bold">1.0</text>
<text transform="translate(239.5 630.4) scale(1 1.025)" font-size="80.5" text-anchor="end" font-family="Liberation Sans, Arial, sans-serif" font-weight="bold">1.5</text>
<text transform="translate(239.5 363.1) scale(1 1.025)" font-size="80.5" text-anchor="end" font-family="Liberation Sans, Arial, sans-serif" font-weight="bold">2.0</text>
<text transform="translate(239.5 95.8) scale(1 1.025)" font-size="80.5" text-anchor="end" font-family="Liberation Sans, Arial, sans-serif" font-weight="bold">2.5</text>
<text transform="translate(269.5 1500) scale(1 1.025)" font-size="80.5" text-anchor="middle" font-family="Liberation Sans, Arial, sans-serif" font-weight="bold">0.000</text>
<text transform="translate(729.6 1500) scale(1 1.025)" font-size="80.5" text-anchor="middle" font-family="Liberation Sans, Arial, sans-serif" font-weight="bold">0.005</text>
<text transform="translate(1189.8 1500) scale(1 1.025)" font-size="80.5" text-anchor="middle" font-family="Liberation Sans, Arial, sans-serif" font-weight="bold">0.010</text>
<text transform="translate(1649.9 1500) scale(1 1.025)" font-size="80.5" text-anchor="middle" font-family="Liberation Sans, Arial, sans-serif" font-weight="bold">0.015</text>
<text transform="translate(2110 1500) scale(1 1.025)" font-size="80.5" text-anchor="middle" font-family="Liberation Sans, Arial, sans-serif" font-weight="bold">0.020</text>
<text transform="translate(1077.6 1633.8) scale(1 1.02)" font-size="79" font-family="Liberation Sans, Arial, sans-serif" font-weight="bold">Strain</text>
<text transform="translate(95.4 963.2) rotate(-90) scale(1 1.02)" font-size="78.4" font-family="Liberation Sans, Arial, sans-serif" font-weight="bold">Stress /MPa</text>
</svg>
</body></html>
